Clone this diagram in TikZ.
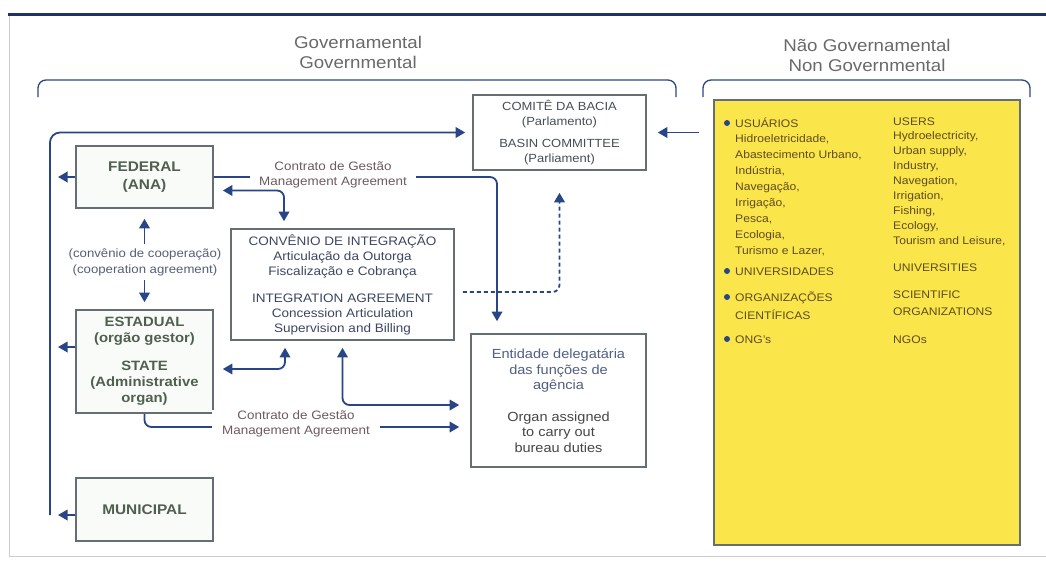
\documentclass[tikz,border=0pt]{standalone}
\usepackage{fontspec}
\setmainfont[FakeStretch=1.1]{Liberation Sans}
\usetikzlibrary{arrows.meta,positioning}
\definecolor{flowblue}{RGB}{40,70,135}
\definecolor{framenavy}{RGB}{30,50,100}
\definecolor{boxgrey}{RGB}{100,110,115}
\definecolor{govtext}{RGB}{80,95,80}
\definecolor{govfill}{RGB}{248,251,248}
\definecolor{headgrey}{RGB}{105,105,105}
\definecolor{comtext}{RGB}{70,78,88}
\definecolor{agrtext}{RGB}{60,70,100}
\definecolor{lbltext}{RGB}{110,90,95}
\definecolor{cooptext}{RGB}{85,95,120}
\definecolor{entblue}{RGB}{80,95,130}
\definecolor{entgrey}{RGB}{70,70,70}
\definecolor{usersfill}{RGB}{250,230,75}
\definecolor{userstext}{RGB}{95,75,30}
\tikzstyle{govbox} = [draw=boxgrey, line width=1.6pt, fill=govfill, rectangle, align=center,
minimum width=137pt, inner sep=0pt, text=govtext, font=\bfseries\fontsize{14}{18}\selectfont]
\tikzstyle{plainbox} = [draw=boxgrey, line width=1.6pt, fill=white, rectangle, align=center, inner sep=0pt]
\tikzstyle{arrow} = [line width=1.8pt, draw=flowblue, rounded corners=7pt, -{Triangle[length=9.5pt,width=10.5pt]}]
\tikzstyle{twoway} = [arrow, {Triangle[length=9.5pt,width=10.5pt]}-{Triangle[length=9.5pt,width=10.5pt]}]
\tikzstyle{agrlabel} = [fill=white, align=center, text=lbltext, inner xsep=9pt, inner ysep=1pt,
font=\fontsize{12.2}{15.5}\selectfont]
\tikzstyle{userlist} = [align=left, anchor=base west, inner sep=0pt, text=userstext]

\begin{document}
\begin{tikzpicture}[x=1pt,y=-1pt]
\useasboundingbox (0,0) rectangle (1046,562);
% frame
\draw[gray!40, line width=0.8pt] (9,14) -- (9,556) -- (1046,556);
\draw[framenavy, line width=3pt] (8,14) -- (1046,14);

% headings and braces
\node[font=\fontsize{17}{20}\selectfont, text=headgrey, align=center] (govhead) at (358,52) {Governamental\\Governmental};
\node[font=\fontsize{17}{20}\selectfont, text=headgrey, align=center] (ngovhead) at (867,55) {Não Governamental\\Non Governmental};
\draw[flowblue, line width=1.3pt, rounded corners=8pt] (38,97) |- (676,80) -- (676,97);
\draw[flowblue, line width=1.3pt, rounded corners=8pt] (703,97) |- (1030,80) -- (1030,97);

% boxes
\node[plainbox, minimum width=173pt, minimum height=75pt, text=comtext,
  font=\fontsize{11.8}{15}\selectfont] (comite) at (559.5,132.5)
  {COMITÊ DA BACIA\\(Parlamento)\\[7pt]BASIN COMMITTEE\\(Parliament)};
\node[govbox, minimum height=62pt] (federal) at (144.5,177) {FEDERAL\\(ANA)};
\node[govbox, minimum height=103pt, font=\bfseries\fontsize{13.5}{16}\selectfont] (estadual) at (144.5,361.5)
  {ESTADUAL\\(orgão gestor)\\[12pt]STATE\\(Administrative\\organ)};
\node[govbox, minimum height=63pt] (municipal) at (144.5,509.5) {MUNICIPAL};
\node[plainbox, minimum width=223pt, minimum height=111pt, text=agrtext,
  font=\fontsize{12.3}{15}\selectfont] (convenio) at (342.5,284.5)
  {CONVÊNIO DE INTEGRAÇÃO\\Articulação da Outorga\\Fiscalização e Cobrança\\[12pt]INTEGRATION AGREEMENT\\Concession Articulation\\Supervision and Billing};
\node[plainbox, minimum width=175pt, minimum height=133pt, text=entblue,
  font=\fontsize{13.2}{15.5}\selectfont] (entidade) at (558.5,400.5)
  {Entidade delegatária\\das funções de\\agência\\[16pt]\color{entgrey}Organ assigned\\\color{entgrey}to carry out\\\color{entgrey}bureau duties};

% non governmental (base anchor = last line)
\node[draw=boxgrey, line width=1.4pt, fill=usersfill, minimum width=306pt, minimum height=445pt, inner sep=0pt] (users) at (867,322.5) {};
\node[userlist, font=\fontsize{11}{15.9}\selectfont] (usuarios) at (735,254.2)
  {USUÁRIOS\\Hidroeletricidade,\\Abastecimento Urbano,\\Indústria,\\Navegação,\\Irrigação,\\Pesca,\\Ecologia,\\Turismo e Lazer,};
\node[userlist, font=\fontsize{11}{16}\selectfont] (univ) at (735,275) {UNIVERSIDADES};
\node[userlist, font=\fontsize{11}{18}\selectfont] (orgcient) at (735,319) {ORGANIZAÇÕES\\CIENTÍFICAS};
\node[userlist, font=\fontsize{11}{16}\selectfont] (ongs) at (735,343) {ONG's};
\node[userlist, font=\fontsize{11}{14.9}\selectfont] (userseng) at (893,244.2)
  {USERS\\Hydroelectricity,\\Urban supply,\\Industry,\\Navegation,\\Irrigation,\\Fishing,\\Ecology,\\Tourism and Leisure,};
\node[userlist, font=\fontsize{11}{16}\selectfont] (univeng) at (893,271) {UNIVERSITIES};
\node[userlist, font=\fontsize{11}{17}\selectfont] (orgeng) at (893,315) {SCIENTIFIC\\ORGANIZATIONS};
\node[userlist, font=\fontsize{11}{16}\selectfont] (ngos) at (893,343) {NGOs};
\foreach \y in {123,271,297,339} \fill[flowblue] (727,\y) circle (3pt);

% connectors
\coordinate (busend) at (50,515);
\coordinate (bus) at (58,0);
\draw[arrow, rounded corners=10pt, shorten >=7pt] (busend) |- (comite.west);
\draw[arrow] (federal.west) -- (federal.west -| bus);
\draw[arrow] ([yshift=14.5pt]estadual.west) -- ([yshift=14.5pt]estadual.west -| bus);
\draw[arrow] ([yshift=-5.5pt]municipal.west) -- ([yshift=-5.5pt]municipal.west -| bus);
\draw[arrow, shorten <=14pt, shorten >=11pt] (users.west |- comite.east) -- (comite.east);
\draw[arrow, shorten >=12pt] (federal.east) -| ([xshift=-61.5pt]entidade.north);
\node[agrlabel] (fedlbl) at (333,175) {Contrato de Gestão\\Management Agreement};
\draw[twoway, shorten <=9pt, shorten >=7pt] ([yshift=-13.5pt]federal.east) -| ([xshift=-58.5pt]convenio.north);
\draw[twoway, shorten <=10pt, shorten >=7pt] (federal.south) -- (estadual.north);
\node[agrlabel, text=cooptext, inner xsep=2pt, inner ysep=4pt, font=\fontsize{12}{16}\selectfont] (cooplbl) at (145,262)
  {(convênio de cooperação)\\(cooperation agreement)};
\draw[twoway, shorten <=9pt, shorten >=7pt] ([yshift=-7.5pt]estadual.east) -| ([xshift=-57.5pt]convenio.south);
\draw[twoway, shorten <=7pt, shorten >=11pt] (convenio.south) |- ([yshift=-4.5pt]entidade.west);
\draw[arrow, shorten >=11pt] (estadual.south) |- ([yshift=-26.5pt]entidade.west);
\node[agrlabel, inner xsep=10pt, font=\fontsize{12.2}{14.5}\selectfont] (estlbl) at (296,424) {Contrato de Gestão\\Management Agreement};
\draw[arrow, dash pattern=on 4pt off 3pt, shorten <=8pt, shorten >=22pt] ([yshift=-7.5pt]convenio.east) -| (comite.south);
\end{tikzpicture}
\end{document}
